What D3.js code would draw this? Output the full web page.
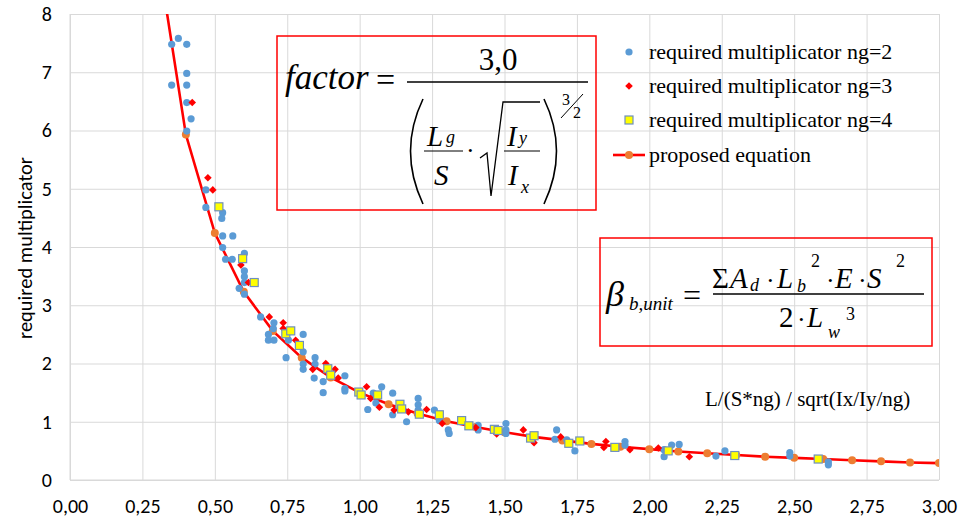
<!DOCTYPE html>
<meta charset="utf-8">
<script src="https://d3js.org/d3.v7.min.js"></script>
<style>
  body { margin: 0; background: #fff; }
  .serif { font-family: "Liberation Serif", "Times New Roman", serif; fill: #000; }
</style>
<div id="chart"></div>
<script>
// tick values
const xTicks = [0, 0.25, 0.5, 0.75, 1, 1.25, 1.5, 1.75, 2, 2.25, 2.5, 2.75, 3];
const yTicks = [0, 1, 2, 3, 4, 5, 6, 7, 8];

// required multiplicator ng=2 (blue circles) [x, y]
const ng2 = [
  [0.351, 7.48], [0.374, 7.58], [0.403, 7.48], [0.403, 6.98], [0.351, 6.78], [0.403, 6.78],
  [0.403, 6.48], [0.418, 6.20], [0.403, 5.99], [0.469, 4.98], [0.469, 4.68], [0.527, 4.59],
  [0.524, 4.49], [0.527, 4.19], [0.562, 4.19], [0.527, 3.99], [0.537, 3.79], [0.560, 3.79],
  [0.602, 3.89], [0.602, 3.59], [0.602, 3.49], [0.602, 3.39], [0.584, 3.29], [0.602, 3.19],
  [0.658, 2.80], [0.704, 2.70], [0.702, 2.60], [0.685, 2.50], [0.805, 2.50], [0.685, 2.40],
  [0.704, 2.40], [0.754, 2.40], [0.805, 2.20], [0.746, 2.10], [0.846, 2.10], [0.805, 1.99],
  [0.805, 1.90], [0.846, 1.99], [0.843, 1.75], [0.874, 1.69], [0.949, 1.79], [0.949, 1.57],
  [0.949, 1.53], [0.874, 1.50], [1.076, 1.60], [1.047, 1.49], [1.056, 1.32], [1.114, 1.49],
  [1.028, 1.21], [1.114, 1.12], [1.202, 1.40], [1.202, 1.29], [1.202, 1.20], [1.162, 1.00],
  [1.258, 1.20], [1.275, 1.02], [1.306, 0.86], [1.309, 0.80], [1.409, 0.94], [1.409, 0.86],
  [1.505, 0.97], [1.505, 0.86], [1.505, 0.80], [1.680, 0.86], [1.674, 0.70], [1.715, 0.69],
  [1.743, 0.50], [1.916, 0.66], [1.916, 0.60], [2.077, 0.60], [2.103, 0.61], [2.051, 0.52],
  [2.051, 0.40], [2.230, 0.41], [2.261, 0.50], [2.485, 0.47], [2.485, 0.41], [2.618, 0.31],
  [2.618, 0.26]
];

// required multiplicator ng=3 (red diamonds)
const ng3 = [
  [0.422, 6.48], [0.476, 5.19], [0.493, 4.98], [0.590, 3.69], [0.616, 3.39], [0.688, 2.80],
  [0.736, 2.70], [0.736, 2.60], [0.779, 2.40], [0.838, 1.90], [0.883, 2.00], [0.915, 1.90],
  [0.926, 1.75], [1.024, 1.60], [1.038, 1.40], [1.068, 1.25], [1.119, 1.20], [1.168, 1.17],
  [1.231, 1.21], [1.285, 0.97], [1.401, 0.90], [1.473, 0.79], [1.565, 0.86], [1.602, 0.64],
  [1.694, 0.74], [1.850, 0.66], [1.843, 0.56], [1.933, 0.52], [2.031, 0.55], [2.138, 0.40]
];

// required multiplicator ng=4 (yellow squares)
const ng4 = [
  [0.514, 4.69], [0.596, 3.80], [0.636, 3.39], [0.745, 2.51], [0.762, 2.56], [0.792, 2.31],
  [0.890, 1.91], [0.900, 1.80], [0.997, 1.51], [1.005, 1.46], [1.062, 1.46], [1.139, 1.30],
  [1.145, 1.22], [1.206, 1.13], [1.275, 1.12], [1.352, 1.02], [1.377, 0.93], [1.465, 0.87],
  [1.478, 0.85], [1.590, 0.72], [1.602, 0.76], [1.722, 0.63], [1.760, 0.67], [1.881, 0.56],
  [2.065, 0.50], [2.295, 0.42], [2.583, 0.36]
];

// proposed equation points
const eqX = [0.3, 0.4, 0.5, 0.6, 0.7, 0.8, 0.9, 1.0, 1.1, 1.2, 1.3, 1.4, 1.5, 1.6,
             1.7, 1.8, 1.9, 2.0, 2.1, 2.2, 2.3, 2.4, 2.5, 2.6, 2.7, 2.8, 2.9, 3.0];
const eqY = [9.13, 5.93, 4.24, 3.23, 2.56, 2.10, 1.76, 1.50, 1.30, 1.14, 1.01, 0.91, 0.82, 0.74,
             0.68, 0.62, 0.57, 0.53, 0.49, 0.46, 0.43, 0.40, 0.38, 0.36, 0.34, 0.32, 0.30, 0.29];

const legendLabels = ["required multiplicator ng=2", "required multiplicator ng=3",
                      "required multiplicator ng=4", "proposed equation"];

const margin = {top: 14, right: 22, bottom: 39, left: 70},
      width = 961 - margin.left - margin.right,
      height = 519 - margin.top - margin.bottom;

const root = d3.select("#chart").append("svg")
  .attr("width", 961).attr("height", 519);
const svg = root.append("g")
  .attr("transform", `translate(${margin.left},${margin.top})`);

const x = d3.scaleLinear().domain([0, 3]).range([0, width]);
const y = d3.scaleLinear().domain([0, 8]).range([height, 0]);

const comma = f => v => f(v).replace(".", ",");
const sansFont = "Carlito, 'Liberation Sans', Arial, sans-serif";

// axes + gridlines
const gx = svg.append("g")
  .attr("transform", `translate(0,${height})`)
  .call(d3.axisBottom(x).tickValues(xTicks).tickSize(-height).tickPadding(19)
        .tickFormat(comma(d3.format(".2f"))));
const gy = svg.append("g")
  .call(d3.axisLeft(y).tickValues(yTicks).tickSize(-width).tickPadding(18)
        .tickFormat(d3.format("d")));
[gx, gy].forEach(g => {
  g.attr("font-size", null).attr("font-family", null);
  g.selectAll(".tick line").attr("stroke", "#d9d9d9");
  g.select(".domain").attr("stroke", "#d9d9d9");
  g.selectAll(".tick text")
    .style("font-family", sansFont)
    .style("font-size", "20px")
    .style("fill", "#000");
});
gy.select(".domain").attr("d", `M0,0V${height}`);
gx.select(".domain").attr("d", `M0,0H${width}`);

// y axis title
root.append("text")
  .attr("transform", "translate(32,248) rotate(-90)")
  .attr("text-anchor", "middle")
  .style("font-family", sansFont)
  .style("font-size", "20.5px")
  .text("required multiplicator");

// x axis title (text box inside the plot)
root.append("text").attr("class", "serif")
  .attr("x", 705).attr("y", 406)
  .style("font-size", "21px")
  .text("L/(S*ng)  / sqrt(Ix/Iy/ng)");

// clip
svg.append("clipPath").attr("id", "clip")
  .append("rect").attr("width", width).attr("height", height);

const eqData = eqX.map((v, i) => [v, eqY[i]]);
const plot = svg.append("g").attr("clip-path", "url(#clip)");

plot.append("path")
  .datum(eqData)
  .attr("fill", "none").attr("stroke", "#ff0000").attr("stroke-width", 2.6)
  .attr("d", d3.line().x(d => x(d[0])).y(d => y(d[1])));

plot.selectAll(".eq").data(eqData).join("circle")
  .attr("cx", d => x(d[0])).attr("cy", d => y(d[1])).attr("r", 4)
  .attr("fill", "#ed7d31");

plot.selectAll(".b").data(ng2).join("circle")
  .attr("cx", d => x(d[0])).attr("cy", d => y(d[1])).attr("r", 3.6)
  .attr("fill", "#5b9bd5");

const diamond = "M0,-3.8L3.8,0L0,3.8L-3.8,0Z";
plot.selectAll(".r").data(ng3).join("path")
  .attr("d", diamond)
  .attr("transform", d => `translate(${x(d[0])},${y(d[1])})`)
  .attr("fill", "#ff0000");

plot.selectAll(".s").data(ng4).join("rect")
  .attr("x", d => x(d[0]) - 4).attr("y", d => y(d[1]) - 4)
  .attr("width", 8).attr("height", 8)
  .attr("fill", "#ffff00").attr("stroke", "#6f8fbf").attr("stroke-width", 1.2);

// legend
const legend = root.append("g");
const legY = [52, 86, 120, 155];
legend.append("circle").attr("cx", 629).attr("cy", legY[0]).attr("r", 3.6).attr("fill", "#5b9bd5");
legend.append("path").attr("d", diamond).attr("transform", `translate(629,${legY[1]})`).attr("fill", "#ff0000");
legend.append("rect").attr("x", 625).attr("y", legY[2] - 4).attr("width", 8).attr("height", 8)
  .attr("fill", "#ffff00").attr("stroke", "#6f8fbf").attr("stroke-width", 1.2);
legend.append("line").attr("x1", 613).attr("x2", 645).attr("y1", legY[3]).attr("y2", legY[3])
  .attr("stroke", "#ff0000").attr("stroke-width", 2.6);
legend.append("circle").attr("cx", 629).attr("cy", legY[3]).attr("r", 4).attr("fill", "#ed7d31");
legend.selectAll("text").data(legendLabels).join("text").attr("class", "serif")
  .attr("x", 649).attr("y", (d, i) => legY[i] + 7)
  .style("font-size", "22px")
  .text(d => d);

// formula boxes
function t(g, str, px, py, size, italic, anchor) {
  return g.append("text").attr("class", "serif")
    .attr("x", px).attr("y", py)
    .attr("text-anchor", anchor || "start")
    .style("font-size", size + "px")
    .style("font-style", italic ? "italic" : "normal")
    .text(str);
}

const f1 = root.append("g");
f1.append("rect").attr("x", 277).attr("y", 36).attr("width", 319).attr("height", 174)
  .attr("fill", "none").attr("stroke", "#ff0000").attr("stroke-width", 1.5);
t(f1, "factor", 285, 89, 35, true);
t(f1, "=", 376, 91, 34, false);
t(f1, "3,0", 498, 70, 31, false, "middle");
f1.append("line").attr("x1", 407).attr("x2", 588).attr("y1", 82).attr("y2", 82).attr("stroke", "#000").attr("stroke-width", 1.3);
f1.append("path").attr("d", "M423,99Q398,151 423,204").attr("fill", "none").attr("stroke", "#000").attr("stroke-width", 1.6);
f1.append("path").attr("d", "M544,99Q569,151 544,204").attr("fill", "none").attr("stroke", "#000").attr("stroke-width", 1.6);
t(f1, "3", 562, 105, 16, false);
t(f1, "2", 573, 118, 16, false);
f1.append("line").attr("x1", 561).attr("y1", 118).attr("x2", 583).attr("y2", 94).attr("stroke", "#000").attr("stroke-width", 1);
t(f1, "L", 427, 146, 29, true);
t(f1, "g", 446, 143, 18, true);
f1.append("line").attr("x1", 424).attr("x2", 463).attr("y1", 151).attr("y2", 151).attr("stroke", "#000").attr("stroke-width", 1);
t(f1, "S", 434, 185, 29, true);
t(f1, "·", 466, 159, 26, false);
f1.append("path").attr("d", "M480,158L487,153L491,196L503,102L540,102")
  .attr("fill", "none").attr("stroke", "#000").attr("stroke-width", 1.3);
t(f1, "I", 507, 146, 29, true);
t(f1, "y", 519, 144, 18, true);
f1.append("line").attr("x1", 504).attr("x2", 540).attr("y1", 151).attr("y2", 151).attr("stroke", "#000").attr("stroke-width", 1);
t(f1, "I", 508, 185, 29, true);
t(f1, "x", 521, 193, 18, true);

const f2 = root.append("g");
f2.append("rect").attr("x", 600).attr("y", 238).attr("width", 332).attr("height", 108)
  .attr("fill", "none").attr("stroke", "#ff0000").attr("stroke-width", 1.5);
t(f2, "β", 606, 306, 36, true);
t(f2, "b,unit", 629, 310, 19, true);
t(f2, "=", 683, 306, 32, false);
f2.append("line").attr("x1", 713).attr("x2", 924).attr("y1", 294).attr("y2", 294).attr("stroke", "#000").attr("stroke-width", 1.3);
t(f2, "Σ", 712, 288, 29, false);
t(f2, "A", 730, 288, 29, true);
t(f2, "d", 750, 291, 18, true);
t(f2, "·", 766, 289, 26, false);
t(f2, "L", 777, 288, 29, true);
t(f2, "b", 797, 292, 18, true);
t(f2, "2", 811, 267, 18, false);
t(f2, "·", 826, 289, 26, false);
t(f2, "E", 835, 288, 29, true);
t(f2, "·", 858, 289, 26, false);
t(f2, "S", 867, 288, 29, true);
t(f2, "2", 896, 267, 18, false);
t(f2, "2", 779, 327, 29, false);
t(f2, "·", 797, 328, 26, false);
t(f2, "L", 807, 327, 29, true);
t(f2, "w", 828, 338, 18, true);
t(f2, "3", 846, 320, 18, false);
</script>
